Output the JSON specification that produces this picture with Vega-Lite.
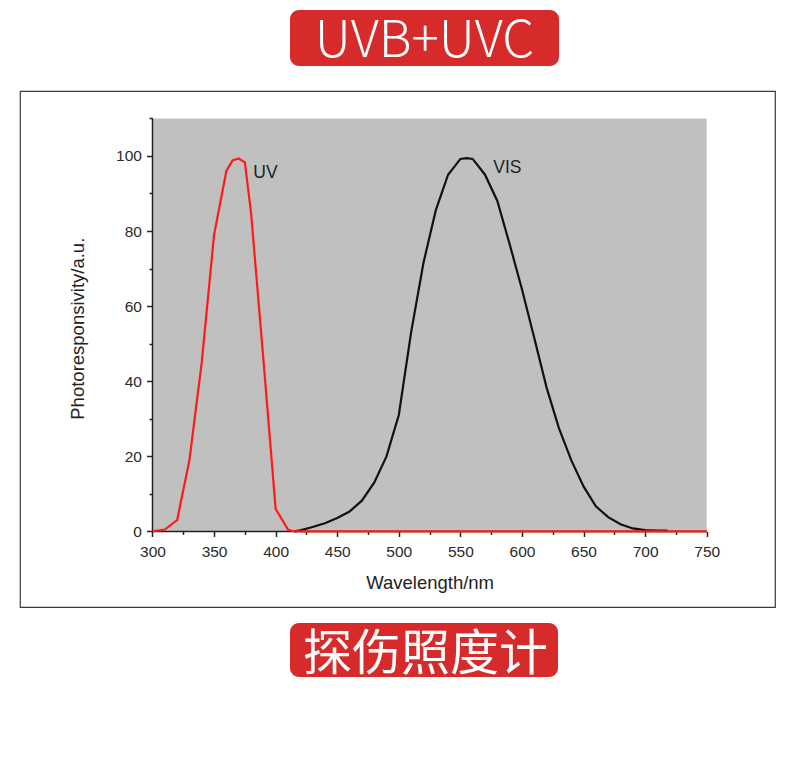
{
  "$schema": "https://vega.github.io/schema/vega-lite/v6.json",
  "width": 755,
  "height": 516,
  "autosize": {"type": "none"},
  "padding": {"left": 20, "top": 91, "right": 15, "bottom": 163},
  "background": "white",
  "config": {
    "view": {"stroke": "#3a3a3a", "strokeWidth": 1.2, "fill": "white"},
    "axis": {"grid": false}
  },
  "datasets": {
    "spectra": [
      {"series": "UV", "wavelength": 300, "value": 0},
      {"series": "UV", "wavelength": 310, "value": 0.5},
      {"series": "UV", "wavelength": 320, "value": 3},
      {"series": "UV", "wavelength": 330, "value": 19},
      {"series": "UV", "wavelength": 340, "value": 45},
      {"series": "UV", "wavelength": 350, "value": 79},
      {"series": "UV", "wavelength": 360, "value": 96},
      {"series": "UV", "wavelength": 365, "value": 98.8},
      {"series": "UV", "wavelength": 370, "value": 99.3},
      {"series": "UV", "wavelength": 375, "value": 98.3},
      {"series": "UV", "wavelength": 380, "value": 85},
      {"series": "UV", "wavelength": 390, "value": 46},
      {"series": "UV", "wavelength": 400, "value": 6},
      {"series": "UV", "wavelength": 410, "value": 0.5},
      {"series": "UV", "wavelength": 415, "value": 0},
      {"series": "UV", "wavelength": 450, "value": 0},
      {"series": "UV", "wavelength": 500, "value": 0},
      {"series": "UV", "wavelength": 550, "value": 0},
      {"series": "UV", "wavelength": 600, "value": 0},
      {"series": "UV", "wavelength": 650, "value": 0},
      {"series": "UV", "wavelength": 700, "value": 0},
      {"series": "UV", "wavelength": 750, "value": 0},
      {"series": "VIS", "wavelength": 415, "value": 0},
      {"series": "VIS", "wavelength": 420, "value": 0.3},
      {"series": "VIS", "wavelength": 430, "value": 1.2},
      {"series": "VIS", "wavelength": 440, "value": 2.2},
      {"series": "VIS", "wavelength": 450, "value": 3.6},
      {"series": "VIS", "wavelength": 460, "value": 5.3},
      {"series": "VIS", "wavelength": 470, "value": 8.2},
      {"series": "VIS", "wavelength": 480, "value": 13},
      {"series": "VIS", "wavelength": 490, "value": 20},
      {"series": "VIS", "wavelength": 500, "value": 31},
      {"series": "VIS", "wavelength": 510, "value": 53},
      {"series": "VIS", "wavelength": 520, "value": 71.5},
      {"series": "VIS", "wavelength": 530, "value": 85.5},
      {"series": "VIS", "wavelength": 540, "value": 95},
      {"series": "VIS", "wavelength": 550, "value": 99.2},
      {"series": "VIS", "wavelength": 555, "value": 99.4},
      {"series": "VIS", "wavelength": 560, "value": 99.2},
      {"series": "VIS", "wavelength": 570, "value": 95},
      {"series": "VIS", "wavelength": 580, "value": 88},
      {"series": "VIS", "wavelength": 590, "value": 76.5},
      {"series": "VIS", "wavelength": 600, "value": 64.5},
      {"series": "VIS", "wavelength": 610, "value": 51.5},
      {"series": "VIS", "wavelength": 620, "value": 38.3},
      {"series": "VIS", "wavelength": 630, "value": 27.5},
      {"series": "VIS", "wavelength": 640, "value": 19},
      {"series": "VIS", "wavelength": 650, "value": 12},
      {"series": "VIS", "wavelength": 660, "value": 6.7},
      {"series": "VIS", "wavelength": 670, "value": 3.8},
      {"series": "VIS", "wavelength": 680, "value": 1.9},
      {"series": "VIS", "wavelength": 690, "value": 0.8},
      {"series": "VIS", "wavelength": 700, "value": 0.35},
      {"series": "VIS", "wavelength": 710, "value": 0.2},
      {"series": "VIS", "wavelength": 718, "value": 0.2}
    ]
  },
  "resolve": {"axis": {"x": "independent", "y": "independent"}},
  "layer": [
    {
      "data": {"values": [{}]},
      "mark": {"type": "rect", "fill": "#c0c0c0"},
      "encoding": {
        "x": {
          "datum": 300, "type": "quantitative",
          "scale": {"domain": [192.42, 805.46], "nice": false, "zero": false},
          "axis": {
            "orient": "bottom", "offset": -75.56,
            "values": [300, 350, 400, 450, 500, 550, 600, 650, 700, 750],
            "domain": false, "grid": false,
            "tickSize": 5, "tickWidth": 1.5, "tickColor": "#222",
            "labelFont": "Liberation Sans", "labelFontSize": 15.5, "labelColor": "#2a2a2a",
            "labelPadding": 8, "labelOverlap": false, "labelFlush": false,
            "title": "Wavelength/nm",
            "titleFont": "Liberation Sans", "titleFontSize": 18.5, "titleFontWeight": "normal",
            "titleColor": "#222", "titleX": 409.6, "titleY": 56.8,
            "titleBaseline": "alphabetic", "titleAlign": "center"
          }
        },
        "x2": {"datum": 750},
        "y": {
          "datum": 0, "type": "quantitative",
          "scale": {"domain": [-20.12, 117.29], "nice": false, "zero": false},
          "axis": {
            "orient": "left", "offset": -132.49,
            "values": [0, 20, 40, 60, 80, 100],
            "domain": false, "grid": false,
            "tickSize": 6, "tickWidth": 1.5, "tickColor": "#222",
            "labelFont": "Liberation Sans", "labelFontSize": 15.5, "labelColor": "#2a2a2a",
            "labelPadding": 5, "labelOverlap": false, "labelFlush": false,
            "title": "Photoresponsivity/a.u.",
            "titleFont": "Liberation Sans", "titleFontSize": 18.5, "titleFontWeight": "normal",
            "titleColor": "#222", "titleAngle": 270, "titleX": -69.3, "titleY": 237.2,
            "titleBaseline": "alphabetic", "titleAlign": "center"
          }
        },
        "y2": {"datum": 110}
      }
    },
    {
      "data": {"values": [{}]},
      "mark": {"type": "rule", "color": "#222", "strokeWidth": 1.5},
      "encoding": {
        "x": {
          "datum": 300, "type": "quantitative",
          "axis": {
            "orient": "bottom", "offset": -75.56,
            "values": [325, 375, 425, 475, 525, 575, 625, 675, 725],
            "domain": false, "grid": false, "labels": false, "title": null,
            "tickSize": 3, "tickWidth": 1.5, "tickColor": "#222"
          }
        },
        "y": {
          "datum": 0, "type": "quantitative",
          "axis": {
            "orient": "left", "offset": -132.49,
            "values": [10, 30, 50, 70, 90, 110],
            "domain": false, "grid": false, "labels": false, "title": null,
            "tickSize": 3.5, "tickWidth": 1.5, "tickColor": "#222"
          }
        },
        "y2": {"datum": 110}
      }
    },
    {
      "data": {"values": [{}]},
      "mark": {"type": "rule", "color": "#222", "strokeWidth": 1.5},
      "encoding": {
        "x": {"datum": 300, "type": "quantitative", "axis": null},
        "x2": {"datum": 750},
        "y": {"datum": 0, "type": "quantitative", "axis": null}
      }
    },
    {
      "data": {"name": "spectra"},
      "transform": [{"filter": "datum.series === 'VIS'"}],
      "mark": {"type": "line", "color": "#111111", "strokeWidth": 2.2},
      "encoding": {
        "x": {"field": "wavelength", "type": "quantitative", "axis": null},
        "y": {"field": "value", "type": "quantitative", "axis": null}
      }
    },
    {
      "data": {"name": "spectra"},
      "transform": [{"filter": "datum.series === 'UV'"}],
      "mark": {"type": "line", "color": "#ff1a1a", "strokeWidth": 2.2},
      "encoding": {
        "x": {"field": "wavelength", "type": "quantitative", "axis": null},
        "y": {"field": "value", "type": "quantitative", "axis": null}
      }
    },
    {
      "data": {"name": "spectra"},
      "transform": [{"filter": "datum.series === 'UV' && datum.wavelength === 370"}],
      "mark": {"type": "text", "align": "left", "baseline": "alphabetic", "dx": 14.6, "dy": 19.7,
               "font": "Liberation Sans", "fontSize": 17.5, "color": "#222"},
      "encoding": {
        "x": {"field": "wavelength", "type": "quantitative", "axis": null},
        "y": {"field": "value", "type": "quantitative", "axis": null},
        "text": {"field": "series"}
      }
    },
    {
      "data": {"name": "spectra"},
      "transform": [{"filter": "datum.series === 'VIS' && datum.wavelength === 555"}],
      "mark": {"type": "text", "align": "left", "baseline": "alphabetic", "dx": 26.7, "dy": 15.1,
               "font": "Liberation Sans", "fontSize": 17.5, "color": "#222"},
      "encoding": {
        "x": {"field": "wavelength", "type": "quantitative", "axis": null},
        "y": {"field": "value", "type": "quantitative", "axis": null},
        "text": {"field": "series"}
      }
    },
    {
      "data": {"values": [{}]},
      "mark": {"type": "rect", "fill": "#d72a2a", "cornerRadius": 9},
      "encoding": {
        "x": {"datum": 411.65, "type": "quantitative", "axis": null},
        "x2": {"datum": 630.07},
        "y": {"datum": 138.86, "type": "quantitative", "axis": null},
        "y2": {"datum": 123.95}
      }
    },
    {
      "data": {"values": [{"heading": "UVB+UVC"}]},
      "mark": {"type": "text", "align": "center", "baseline": "alphabetic",
               "font": "Noto Sans CJK SC", "fontSize": 51, "fontWeight": 300, "color": "white"},
      "encoding": {
        "x": {"datum": 520.86, "type": "quantitative", "axis": null},
        "y": {"datum": 126.3, "type": "quantitative", "axis": null},
        "text": {"field": "heading"}
      }
    },
    {
      "data": {"values": [{}]},
      "mark": {"type": "rect", "fill": "#d72a2a", "cornerRadius": 9},
      "encoding": {
        "x": {"datum": 411.65, "type": "quantitative", "axis": null},
        "x2": {"datum": 629.26},
        "y": {"datum": -24.38, "type": "quantitative", "axis": null},
        "y2": {"datum": -38.76}
      }
    },
    {
      "data": {"values": [{"caption": "探伤照度计"}]},
      "mark": {"type": "text", "align": "center", "baseline": "alphabetic",
               "font": "Noto Sans CJK SC", "fontSize": 49, "color": "white"},
      "encoding": {
        "x": {"datum": 521.68, "type": "quantitative", "axis": null},
        "y": {"datum": -36.9, "type": "quantitative", "axis": null},
        "text": {"field": "caption"}
      }
    }
  ]
}
